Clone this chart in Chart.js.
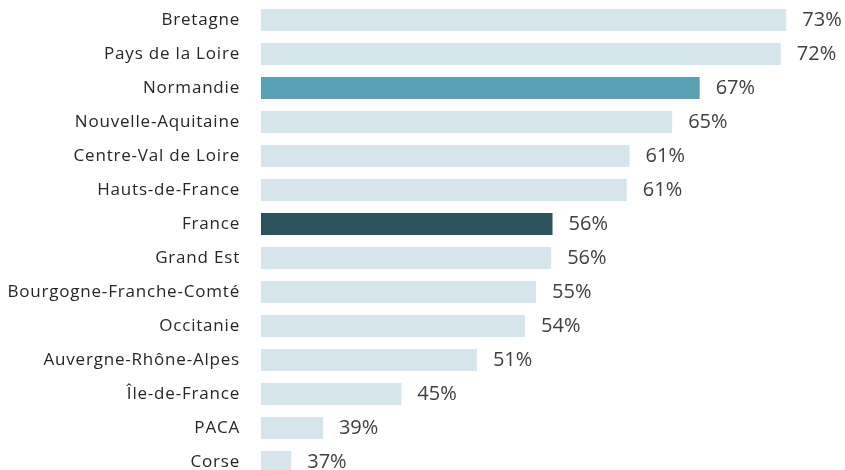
<!DOCTYPE html>
<html>
<head>
<meta charset="utf-8">
<script src="https://cdn.jsdelivr.net/npm/chart.js@4"></script>
<style>
  html, body { margin: 0; padding: 0; background: #fff; overflow: hidden; }
  canvas { display: block; }
</style>
</head>
<body>
<canvas id="regionsChart" width="845" height="479"></canvas>
<script>
// Data
const regions = ['Bretagne', 'Pays de la Loire', 'Normandie', 'Nouvelle-Aquitaine', 'Centre-Val de Loire',
  'Hauts-de-France', 'France', 'Grand Est', 'Bourgogne-Franche-Comté', 'Occitanie',
  'Auvergne-Rhône-Alpes', 'Île-de-France', 'PACA', 'Corse'];
const shares = [73.2, 72.8, 66.9, 64.9, 61.8, 61.6, 56.2, 56.1, 55.0, 54.2, 50.7, 45.2, 39.5, 37.2];
const shownLabels = ['73%', '72%', '67%', '65%', '61%', '61%', '56%', '56%', '55%', '54%', '51%', '45%', '39%', '37%'];

const barColors = regions.map(r => {
    if (r === 'France') return '#2b535d';
    if (r === 'Normandie') return '#58a0b3';
    return '#d5e5eb';
});

// slightly spaced category labels, like the original
const letterSpace = {
    id: 'letterSpace',
    beforeDraw(chart) { chart.ctx.letterSpacing = '0.8px'; },
    afterDraw(chart) { chart.ctx.letterSpacing = '0px'; }
};

// Value labels at bar ends
const valueLabels = {
    id: 'valueLabels',
    afterDatasetsDraw(chart) {
        const ctx = chart.ctx;
        const meta = chart.getDatasetMeta(0);
        ctx.save();
        ctx.letterSpacing = '0px';
        ctx.font = '20px "Open Sans"';
        ctx.fillStyle = '#404040';
        ctx.textAlign = 'left';
        ctx.textBaseline = 'middle';
        meta.data.forEach((bar, i) => {
            ctx.fillText(shownLabels[i], bar.x + 16, bar.y);
        });
        ctx.restore();
    }
};

const ctx = document.getElementById('regionsChart').getContext('2d');
const regionsChart = new Chart(ctx, {
    type: 'bar',
    data: {
        labels: regions,
        datasets: [{
            data: shares,
            backgroundColor: barColors,
            borderWidth: 0,
            categoryPercentage: 1,
            barPercentage: 0.65
        }]
    },
    options: {
        indexAxis: 'y',
        responsive: false,
        animation: false,
        layout: { padding: { top: 3, bottom: 0, left: 0, right: 0 } },
        scales: {
            x: {
                display: false,
                min: 35,
                max: 77.47
            },
            y: {
                grid: { display: false, drawTicks: false },
                border: { display: false },
                ticks: {
                    color: '#262626',
                    font: { family: 'Open Sans', size: 17 },
                    padding: 21
                },
                afterFit(scale) {
                    scale.width = 261;
                    scale.paddingTop = 0;
                    scale.paddingBottom = 0;
                }
            }
        },
        plugins: {
            legend: { display: false },
            tooltip: { enabled: false }
        }
    },
    plugins: [letterSpace, valueLabels]
});
</script>
</body>
</html>
